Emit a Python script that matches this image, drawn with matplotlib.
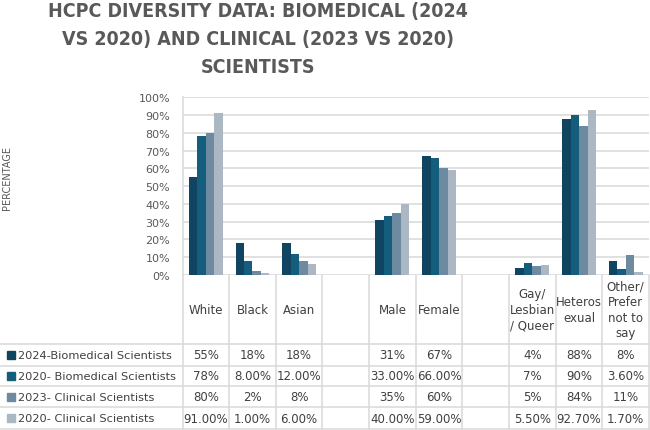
import matplotlib.pyplot as plt
import numpy as np

# data
categories = ['White', 'Black', 'Asian', '', 'Male', 'Female', '',
              'Gay/\nLesbian\n/ Queer', 'Heteros\nexual', 'Other/\nPrefer\nnot to\nsay']
series_names = ['2024-Biomedical Scientists', '2020- Biomedical Scientists',
                '2023- Clinical Scientists', '2020- Clinical Scientists']
bio_2024 = [55, 18, 18, np.nan, 31, 67, np.nan, 4, 88, 8]
bio_2020 = [78, 8, 12, np.nan, 33, 66, np.nan, 6.6, 90, 3.6]
clin_2023 = [80, 2, 8, np.nan, 35, 60, np.nan, 5, 84, 11]
clin_2020 = [91, 1, 6, np.nan, 40, 59, np.nan, 5.5, 92.7, 1.7]
bio_2024_txt = ['55%', '18%', '18%', '', '31%', '67%', '', '4%', '88%', '8%']
bio_2020_txt = ['78%', '8.00%', '12.00%', '', '33.00%', '66.00%', '', '7%', '90%', '3.60%']
clin_2023_txt = ['80%', '2%', '8%', '', '35%', '60%', '', '5%', '84%', '11%']
clin_2020_txt = ['91.00%', '1.00%', '6.00%', '', '40.00%', '59.00%', '', '5.50%', '92.70%', '1.70%']
yticks = [0, 10, 20, 30, 40, 50, 60, 70, 80, 90, 100]

series = [bio_2024, bio_2020, clin_2023, clin_2020]
series_txt = [bio_2024_txt, bio_2020_txt, clin_2023_txt, clin_2020_txt]
colors = ['#0f4561', '#155d7c', '#6e8aa0', '#abb7c3']
grid_c = '#d9d9d9'
txt_c = '#404040'

W, H = 650, 431
L, R, T, B = 182.5, 649, 98.3, 276   # plot area in pixels

fig = plt.figure(figsize=(W / 100, H / 100), dpi=100)
ax = fig.add_axes([L / W, 1 - B / H, (R - L) / W, (B - T) / H])

n = len(categories)
x = np.arange(n)
bw = 1 / 5.5
for k, (vals, c) in enumerate(zip(series, colors)):
    ax.bar(x + (k - 1.5) * bw, vals, width=bw, color=c, zorder=3)

ax.set_xlim(-0.5, n - 0.5)
ax.set_ylim(0, 100)
ax.set_yticks(yticks)
ax.set_yticklabels([f'{v}%' for v in yticks], fontsize=8, color='#595959')
ax.set_xticks([])
ax.tick_params(axis='y', length=0, pad=9)
ax.grid(axis='y', color=grid_c, lw=1.1, zorder=0)
for s in ['top', 'right', 'bottom']:
    ax.spines[s].set_visible(False)
ax.spines['left'].set_color(grid_c)
ax.spines['left'].set_linewidth(1.1)

# data table drawn in pixel coordinates
tab = fig.add_axes([0, 0, 1, 1], zorder=-1)
tab.set_xlim(0, W)
tab.set_ylim(H, 0)
tab.axis('off')
cw = (R - L) / n
row_y = [345, 366.5, 387.3, 408.3, 430]
for i in range(n + 1):
    tab.plot([L + i * cw] * 2, [B, row_y[-1]], color=grid_c, lw=1.1)
for y in row_y:
    tab.plot([0, R], [y, y], color=grid_c, lw=1.1)

for i, cat in enumerate(categories):
    tab.text(L + (i + 0.5) * cw, 310.5, cat, ha='center', va='center',
             fontsize=8.5, color=txt_c, linespacing=1.25)

for r, (name, c, txts) in enumerate(zip(series_names, colors, series_txt)):
    yc = (row_y[r] + row_y[r + 1]) / 2
    tab.plot(11, yc, marker='s', ms=5.5, color=c, lw=0)
    tab.text(17.5, yc, name, ha='left', va='center', fontsize=8.2, color=txt_c)
    for i, t in enumerate(txts):
        tab.text(L + (i + 0.5) * cw, yc, t, ha='center', va='center',
                 fontsize=8.5, color=txt_c)

fig.text(7 / W, 1 - 178 / H, 'PERCENTAGE', rotation=90, ha='center', va='center',
         fontsize=7, color='#595959')

title_lines = ['HCPC DIVERSITY DATA: BIOMEDICAL (2024',
               'VS 2020) AND CLINICAL (2023 VS 2020)',
               'SCIENTISTS']
for line, yb in zip(title_lines, [17, 45, 73]):
    fig.text(258 / W, 1 - yb / H, line, ha='center', va='baseline', fontsize=14,
             fontweight='bold', fontstretch='condensed', color='#595959')

fig.savefig('out.png', dpi=100)
